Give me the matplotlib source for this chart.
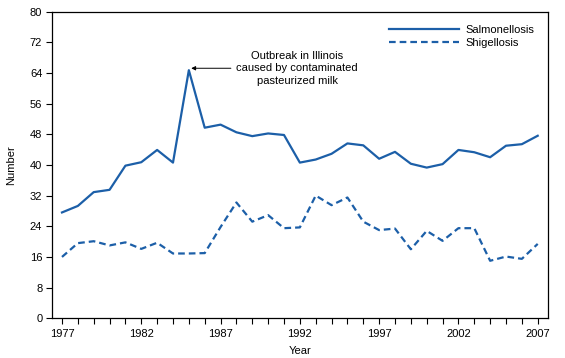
import numpy as np
import matplotlib
matplotlib.use("Agg")
import matplotlib.pyplot as plt

# data
years = np.arange(1977, 2008)
salmonellosis = [27.6, 29.3, 32.9, 33.5, 39.8, 40.7, 43.9, 40.6, 64.7, 49.7,
                 50.5, 48.5, 47.5, 48.2, 47.8, 40.6, 41.4, 42.9, 45.6, 45.1,
                 41.6, 43.4, 40.3, 39.3, 40.2, 43.9, 43.3, 42.0, 45.0, 45.4, 47.6]
shigellosis = [16.0, 19.6, 20.1, 19.0, 19.8, 18.1, 19.7, 16.9, 16.9, 17.0,
               23.8, 30.2, 25.2, 26.9, 23.5, 23.7, 32.0, 29.5, 31.5, 25.2,
               23.0, 23.4, 18.0, 22.8, 20.2, 23.5, 23.5, 15.0, 16.1, 15.5, 19.4]
year_labels = [1977, 1982, 1987, 1992, 1997, 2002, 2007]
y_ticks = np.arange(0, 81, 8)

blue = "#1c5fa8"
plt.rcParams["font.family"] = "Liberation Sans"
plt.rcParams["font.size"] = 8

fig = plt.figure(figsize=(5.65, 3.58), dpi=100)
ax = fig.add_axes([52 / 565, 1 - 318.3 / 358, (547.7 - 52) / 565, (318.3 - 11.5) / 358])

ax.plot(years, salmonellosis, color=blue, lw=1.6, label="Salmonellosis")
ax.plot(years, shigellosis, color=blue, lw=1.6, dashes=(3, 1.8), label="Shigellosis")

ax.set_xlim(1976.37, 2007.63)
ax.set_ylim(0, 80)
ax.set_xticks(years, minor=True)
ax.set_xticks(year_labels)
ax.set_yticks(y_ticks)
ax.tick_params(axis="both", which="both", direction="out", length=4, width=0.8, pad=3)
ax.tick_params(axis="x", which="major", pad=4)
for s in ax.spines.values():
    s.set_linewidth(0.9)

ax.set_xlabel("Year", labelpad=5)
ax.set_ylabel("Number", labelpad=10)

ax.annotate("Outbreak in Illinois\ncaused by contaminated\npasteurized milk",
            xy=(1985.15, 65.2), xytext=(1988.0, 65.2),
            ha="left", va="center", multialignment="center", linespacing=1.3,
            arrowprops=dict(arrowstyle="-|>", color="black", lw=0.7,
                            mutation_scale=6, shrinkA=2, shrinkB=0))

ax.legend(loc="upper right", frameon=False, handlelength=6.3, handletextpad=0.6,
          labelspacing=0.3, borderaxespad=0.8)

fig.savefig("out.png", dpi=100)
